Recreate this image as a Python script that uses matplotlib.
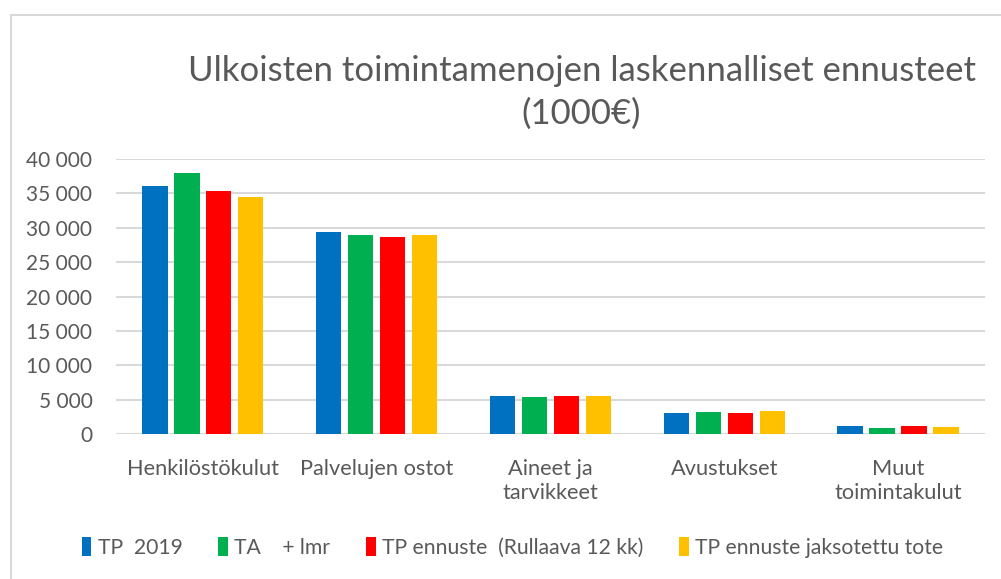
import matplotlib
matplotlib.use('Agg')
import matplotlib.pyplot as plt
from matplotlib.ticker import FuncFormatter
from matplotlib.patches import Rectangle
import numpy as np

# Data
kategoriat = ['Henkilöstökulut', 'Palvelujen ostot', 'Aineet ja\ntarvikkeet',
              'Avustukset', 'Muut\ntoimintakulut']
tp_2019 = [36000, 29400, 5550, 3000, 1100]
ta_lmr = [38000, 29000, 5350, 3200, 900]
tp_ennuste_rull = [35400, 28650, 5550, 3000, 1100]
tp_ennuste_jakso = [34400, 29000, 5550, 3400, 1050]

sarjat = ['TP  2019', 'TA    + lmr', 'TP ennuste  (Rullaava 12 kk)', 'TP ennuste jaksotettu tote']
varit = ['#0070C0', '#00B050', '#FF0000', '#FFC000']
harmaa = '#595959'

plt.rcParams['font.family'] = ['Lato', 'DejaVu Sans']

fig = plt.figure(figsize=(10.01, 5.79), dpi=100)
ax = fig.add_axes([0.1159, 0.2504, 0.868, 0.475])

# kehys kaavion ympärillä
fig.patches.append(Rectangle((11 / 1001, -0.1), 1.2, 1 - 15 / 579 + 0.1,
                             transform=fig.transFigure, fill=False,
                             edgecolor='#D9D9D9', linewidth=1.5))

x = np.arange(len(kategoriat))
leveys = 0.145
askel = 0.184
data = [tp_2019, ta_lmr, tp_ennuste_rull, tp_ennuste_jakso]
for i, (arvot, vari, nimi) in enumerate(zip(data, varit, sarjat)):
    ax.bar(x + (i - 1.5) * askel, arvot, width=leveys, color=vari, label=nimi, zorder=3)

ax.set_xlim(-0.5, 4.5)
ax.set_ylim(0, 40000)
ax.set_yticks(np.arange(0, 40001, 5000))
ax.yaxis.set_major_formatter(FuncFormatter(lambda v, p: f'{int(v):,}'.replace(',', ' ')))
ax.grid(axis='y', color='#D9D9D9', linewidth=1.5, zorder=0)
for s in ax.spines.values():
    s.set_visible(False)
ax.tick_params(axis='both', length=0, labelsize=15, colors=harmaa)
ax.tick_params(axis='y', pad=17)
ax.tick_params(axis='x', pad=18, labelsize=15.7)
ax.set_xticks(x)
ax.set_xticklabels(kategoriat, linespacing=1.25)

fig.text(0.581, 0.84, 'Ulkoisten toimintamenojen laskennalliset ennusteet\n(1000€)',
         ha='center', va='center', fontsize=25, color=harmaa, linespacing=1.42)

fig.legend(loc='center', bbox_to_anchor=(0.512, 0.054), ncol=4, frameon=False,
           fontsize=15.2, labelcolor=harmaa, handlelength=0.45, handleheight=1.0,
           handletextpad=0.3, columnspacing=1.7)

fig.savefig('out.png', dpi=100)
